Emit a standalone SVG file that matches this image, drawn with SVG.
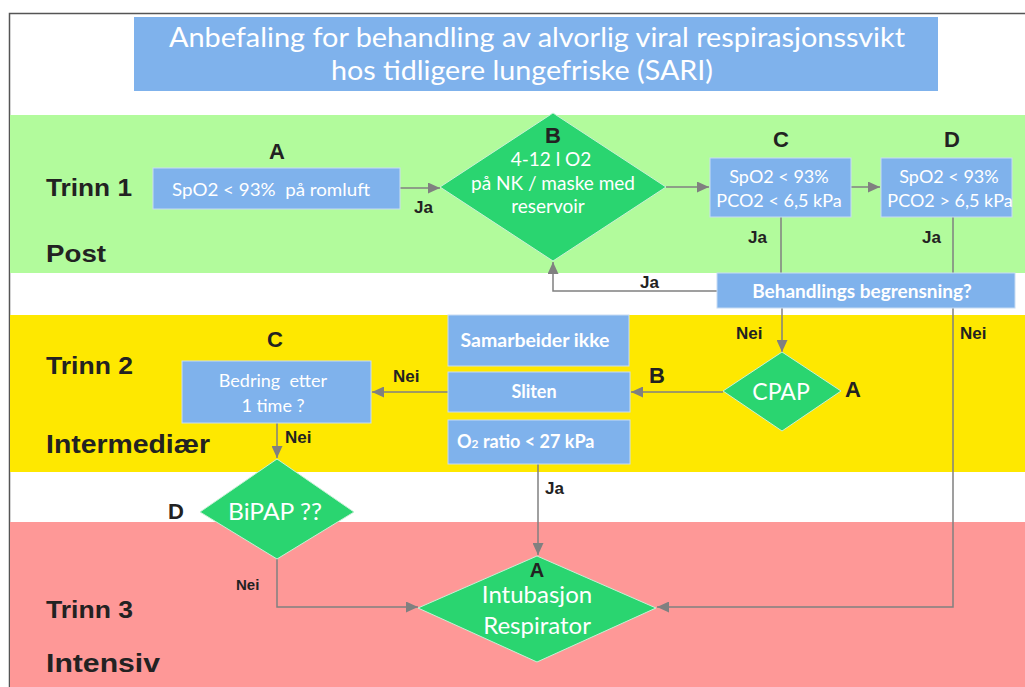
<svg xmlns="http://www.w3.org/2000/svg" width="1025" height="687" viewBox="0 0 1025 687">
<style>
.band-g{fill:#b2fb9c}
.band-y{fill:#fee800}
.band-r{fill:#fe9897}
.box{fill:#7fb2ec;stroke:#c8dcf3;stroke-width:1}
.dia{fill:#2ad570;stroke:#c8f0d6;stroke-width:1}
.wt{font-family:Lato,"Open Sans",sans-serif;fill:#ffffff;text-anchor:middle}
.wb{font-family:Lato,"Open Sans",sans-serif;fill:#ffffff;font-weight:bold;text-anchor:middle}
.wbs{font-family:Lato,"Open Sans",sans-serif;fill:#ffffff;font-weight:bold;text-anchor:start}
.lbl{font-family:"Liberation Sans",Arial,sans-serif;font-weight:bold;fill:#222222}
.lblc{font-family:"Liberation Sans",Arial,sans-serif;font-weight:bold;fill:#222222;text-anchor:middle}
.conn{fill:none;stroke:#808080;stroke-width:1.5}
</style>
<defs>
<marker id="arr" viewBox="0 0 12 11" refX="12" refY="5.5" markerWidth="12" markerHeight="11" markerUnits="userSpaceOnUse" orient="auto">
<path d="M0,0 L12,5.5 L0,11 z" fill="#808080"/>
</marker>
</defs>
<rect x="0" y="0" width="1025" height="687" fill="#ffffff"/>
<path d="M9.5,687 V13.5 H1025" fill="none" stroke="#555555" stroke-width="1.5"/>
<g id="bands">
<rect class="band-g" x="10" y="115" width="1015" height="158"/>
<rect class="band-y" x="10" y="315" width="1015" height="157"/>
<rect class="band-r" x="10" y="522" width="1015" height="165"/>
</g>
<g id="title">
<rect x="134" y="17" width="804" height="74" fill="#7fb2ec"/>
<text class="wt" x="537" y="47" font-size="26" textLength="736" lengthAdjust="spacingAndGlyphs">Anbefaling for behandling av alvorlig viral respirasjonssvikt</text>
<text class="wt" x="522" y="80" font-size="26" textLength="382" lengthAdjust="spacingAndGlyphs">hos tidligere lungefriske (SARI)</text>
</g>
<g id="stage-labels">
<text class="lbl" x="46" y="196" font-size="23" textLength="86" lengthAdjust="spacingAndGlyphs">Trinn 1</text>
<text class="lbl" x="46" y="262" font-size="24" textLength="60" lengthAdjust="spacingAndGlyphs">Post</text>
<text class="lbl" x="46" y="374" font-size="23" textLength="87" lengthAdjust="spacingAndGlyphs">Trinn 2</text>
<text class="lbl" x="46" y="453" font-size="26" textLength="164" lengthAdjust="spacingAndGlyphs">Intermediær</text>
<text class="lbl" x="46" y="618" font-size="23" textLength="87" lengthAdjust="spacingAndGlyphs">Trinn 3</text>
<text class="lbl" x="46" y="672" font-size="26" textLength="114" lengthAdjust="spacingAndGlyphs">Intensiv</text>
</g>
<g id="connectors">
<line class="conn" x1="400" y1="188" x2="440" y2="188" marker-end="url(#arr)"/>
<line class="conn" x1="666" y1="187" x2="709" y2="187" marker-end="url(#arr)"/>
<line class="conn" x1="851" y1="187" x2="880" y2="187" marker-end="url(#arr)"/>
<line class="conn" x1="781" y1="217" x2="781" y2="273"/>
<path class="conn" d="M953,217 V607 H657" marker-end="url(#arr)"/>
<path class="conn" d="M717,291 H553 V262" marker-end="url(#arr)"/>
<line class="conn" x1="782" y1="308" x2="782" y2="352" marker-end="url(#arr)"/>
<line class="conn" x1="723" y1="392" x2="631" y2="392" marker-end="url(#arr)"/>
<line class="conn" x1="448" y1="392" x2="372" y2="392" marker-end="url(#arr)"/>
<line class="conn" x1="277" y1="423" x2="277" y2="458" marker-end="url(#arr)"/>
<path class="conn" d="M277,559 V607 H418" marker-end="url(#arr)"/>
<line class="conn" x1="538" y1="464" x2="538" y2="555" marker-end="url(#arr)"/>
</g>
<g id="connector-labels">
<text class="lbl" x="414" y="213" font-size="17">Ja</text>
<text class="lbl" x="748" y="243" font-size="17">Ja</text>
<text class="lbl" x="922" y="243" font-size="17">Ja</text>
<text class="lbl" x="640" y="288" font-size="17">Ja</text>
<text class="lbl" x="736" y="339" font-size="17">Nei</text>
<text class="lbl" x="960" y="339" font-size="17">Nei</text>
<text class="lbl" x="393" y="382" font-size="17">Nei</text>
<text class="lbl" x="285" y="443" font-size="17">Nei</text>
<text class="lbl" x="545" y="494" font-size="17">Ja</text>
<text class="lbl" x="236" y="590" font-size="15">Nei</text>
</g>
<g id="node-A1">
<rect class="box" x="153" y="168" width="247" height="41"/>
<text class="wt" x="271" y="196" font-size="18" xml:space="preserve" textLength="198" lengthAdjust="spacingAndGlyphs">SpO2 &lt; 93%  på romluft</text>
<text class="lblc" x="277" y="159" font-size="22">A</text>
</g>
<g id="node-B1">
<polygon class="dia" points="553,113 666,187 553,261 440,187"/>
<text class="lblc" x="553" y="143" font-size="22">B</text>
<text class="wt" x="551" y="166" font-size="19">4-12 l O2</text>
<text class="wt" x="553" y="190" font-size="19">på NK / maske med</text>
<text class="wt" x="548" y="213" font-size="19">reservoir</text>
</g>
<g id="node-C1">
<rect class="box" x="710" y="158" width="141" height="59"/>
<text class="wt" x="779" y="183" font-size="18">SpO2 &lt; 93%</text>
<text class="wt" x="779" y="207" font-size="18">PCO2 &lt; 6,5 kPa</text>
<text class="lblc" x="781" y="147" font-size="22">C</text>
</g>
<g id="node-D1">
<rect class="box" x="881" y="158" width="131" height="59"/>
<text class="wt" x="949" y="183" font-size="18">SpO2 &lt; 93%</text>
<text class="wt" x="950" y="207" font-size="18">PCO2 &gt; 6,5 kPa</text>
<text class="lblc" x="952" y="147" font-size="22">D</text>
</g>
<g id="node-behandlings">
<rect class="box" x="717" y="273" width="298" height="35"/>
<text class="wb" x="862" y="298" font-size="19">Behandlings begrensning?</text>
</g>
<g id="node-cpap">
<polygon class="dia" points="782,352 841,391 782,431 723,391"/>
<text class="wt" x="781" y="400" font-size="23">CPAP</text>
<text class="lbl" x="845" y="397" font-size="22">A</text>
<text class="lbl" x="649" y="383" font-size="22">B</text>
</g>
<g id="node-samarbeider">
<rect class="box" x="448" y="315" width="181" height="51"/>
<text class="wb" x="535" y="347" font-size="18" textLength="149" lengthAdjust="spacingAndGlyphs">Samarbeider ikke</text>
</g>
<g id="node-sliten">
<rect class="box" x="448" y="372" width="182" height="40"/>
<text class="wb" x="534" y="398" font-size="18">Sliten</text>
</g>
<g id="node-o2ratio">
<rect class="box" x="448" y="420" width="182" height="44"/>
<text class="wbs" x="457" y="448" font-size="18">O<tspan font-size="12">2</tspan> ratio &lt; 27 kPa</text>
</g>
<g id="node-bedring">
<rect class="box" x="182" y="361" width="189" height="62"/>
<text class="wt" x="273" y="387" font-size="18" xml:space="preserve">Bedring  etter</text>
<text class="wt" x="273" y="412" font-size="18">1 time ?</text>
<text class="lblc" x="275" y="347" font-size="22">C</text>
</g>
<g id="node-bipap">
<polygon class="dia" points="277,459 354,512 277,559 200,512"/>
<text class="wt" x="275" y="520" font-size="23" textLength="94" lengthAdjust="spacingAndGlyphs">BiPAP ??</text>
<text class="lbl" x="168" y="519" font-size="22">D</text>
</g>
<g id="node-intubasjon">
<polygon class="dia" points="537,556 656,608 537,662 418,608"/>
<text class="lblc" x="537" y="577" font-size="20">A</text>
<text class="wt" x="537" y="603" font-size="24">Intubasjon</text>
<text class="wt" x="537" y="634" font-size="24">Respirator</text>
</g>
</svg>
